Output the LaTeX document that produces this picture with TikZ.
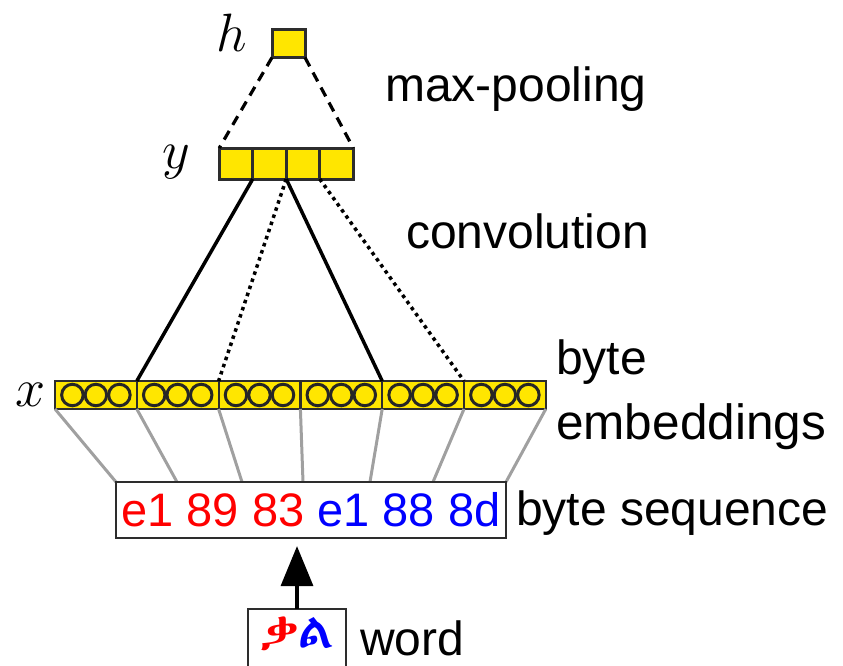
\RequirePackage{fix-cm}
\documentclass[tikz,border=0pt]{standalone}
\usepackage{fontspec}
\setmainfont{Liberation Sans}
\usetikzlibrary{arrows.meta,calc}
\IfFontExistsTF{FreeSerif.otf}{\newfontfamily\ethfont[FakeBold=3]{FreeSerif.otf}}{\IfFontExistsTF{Abyssinica SIL}{\newfontfamily\ethfont{Abyssinica SIL}}{\newfontfamily\ethfont{DejaVu Sans}}}
\definecolor{ylw}{RGB}{255,230,0}
\definecolor{edge}{RGB}{45,45,45}
\definecolor{grayline}{RGB}{160,160,160}
\begin{document}
\begin{tikzpicture}[x=1pt,y=-1pt,
  ycell/.style={draw=edge,line width=3pt,fill=ylw,minimum width=33.5pt,minimum height=31pt,inner sep=0pt,outer sep=0pt},
  xcell/.style={draw=edge,line width=2.2pt,fill=ylw,minimum width=81.8pt,minimum height=28pt,inner sep=0pt,outer sep=0pt},
  dot/.style={draw=black!85,line width=3pt,circle,minimum size=21.5pt,inner sep=0pt},
  lbl/.style={anchor=base west,inner sep=0pt,font=\fontsize{48}{58}\selectfont},
  mathlbl/.style={anchor=base,inner sep=0pt,font=\fontsize{54}{62}\selectfont},
  conn/.style={line width=3.5pt,black},
  dotconn/.style={line width=3.5pt,black,dash pattern=on 3.5pt off 4pt},
  dashconn/.style={line width=3.2pt,black,dash pattern=on 10pt off 7pt},
  grayconn/.style={line width=3pt,grayline}]
\useasboundingbox (0,0) rectangle (843,665);
% h
\node[ycell,minimum width=33pt,minimum height=28pt] (h) at (288.5,43.5) {};
\node[mathlbl] (hl) at (232,51) {$h$};
% y
\foreach \i/\cx in {1/236,2/269.5,3/303,4/336.5}
  \node[ycell] (y\i) at (\cx,163.5) {};
\node[mathlbl] (yl) at (176,168) {$y$};
% x
\foreach \i in {1,...,6}{
  \node[xcell] (x\i) at ({55+40.9+81.8*(\i-1)},395) {};
  \foreach \o [count=\k] in {-23.5,0,23.5}
    \node[dot] (x\i d\k) at ($(x\i)+(\o,0)$) {};
}
\node[mathlbl] (xl) at (31,406) {$x$};
% dashed max-pooling
\draw[dashconn] (h.south west) -- (y1.north west);
\draw[dashconn] (h.south east) -- (y4.north east);
% convolution
\draw[conn] (y1.south east) -- (x2.north west);
\draw[dotconn] (y2.south east) -- (x3.north west);
\draw[conn] (y2.south east) -- (x5.north west);
\draw[dotconn] (y3.south east) -- (x6.north west);
% gray lines
\coordinate (g0) at (116,482);
\coordinate (g1) at (177,482);
\coordinate (g2) at (242,482);
\coordinate (g3) at (303,482);
\coordinate (g4) at (370,482);
\coordinate (g5) at (433,482);
\coordinate (g6) at (506,482);
\draw[grayconn] (x1.south west) -- (g0);
\foreach \i in {1,...,6}
  \draw[grayconn] (x\i.south east) -- (g\i);
% byte sequence box
\node[draw=edge,line width=2.2pt,fill=white,minimum width=390pt,minimum height=56pt,inner sep=0pt,font=\fontsize{47}{56}\selectfont] (bytes) at (311,510)
  {\textcolor{red}{e1 89 83} \textcolor{blue}{e1 88 8d}};
% word box (open at the bottom edge)
\node[minimum width=98pt,minimum height=40pt,inner sep=0pt,font=\fontsize{49}{58}\selectfont\ethfont] (word) at (297,634)
  {\textcolor{red}{ቃ}\textcolor{blue}{ል}};
\coordinate (wt) at (297,609);
\coordinate (wb) at (297,668);
\draw[edge,line width=2.2pt] (word.west |- wb) -- (word.west |- wt) -- (word.east |- wt) -- (word.east |- wb);
\draw[line width=3.5pt,-{Triangle[length=40pt,width=32pt]},shorten >=7pt] (wt) -- (wt |- bytes.south);
% labels
\node[lbl] (mp) at (385,101) {max-pooling};
\node[lbl] (cv) at (406,248) {convolution};
\node[lbl] (be1) at (556,374) {byte};
\node[lbl,font=\fontsize{49.5}{58}\selectfont] (be2) at (556,439) {embeddings};
\node[lbl] (bs) at (516,525) {byte sequence};
\node[lbl] (wd) at (360,655) {word};
\end{tikzpicture}
\end{document}
